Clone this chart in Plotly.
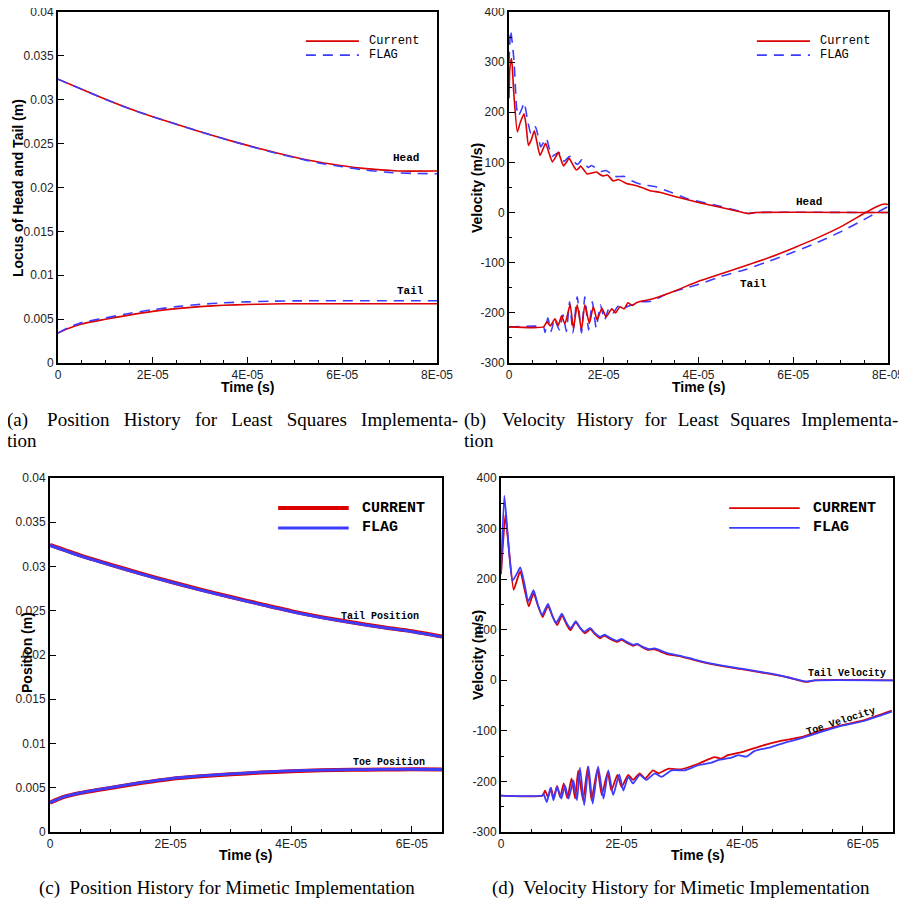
import plotly.graph_objects as go

# ---------------- DATA (time in microseconds) ----------------
# (a) Position history, least squares
a_head_cur_t = [0, 5, 10, 15, 20, 25, 30, 35, 40, 45, 50, 55, 60, 65, 70, 72, 80]
a_head_cur_v = [0.03234, 0.0312, 0.03005, 0.0290, 0.02806, 0.0272, 0.02635, 0.02555, 0.0248,
                0.0241, 0.02345, 0.0229, 0.02248, 0.02215, 0.02195, 0.02188, 0.02188]
a_head_flag_t = [0, 5, 10, 15, 20, 25, 30, 35, 40, 45, 50, 55, 60, 65, 70, 75, 80]
a_head_flag_v = [0.03234, 0.0312, 0.03005, 0.0290, 0.02806, 0.0272, 0.02635, 0.02555, 0.02478,
                 0.02405, 0.0234, 0.0228, 0.02237, 0.02197, 0.02172, 0.0216, 0.02157]
a_tail_cur_t = [0, 2, 5, 10, 15, 20, 25, 30, 35, 40, 45, 50, 80]
a_tail_cur_v = [0.00341, 0.0039, 0.00445, 0.00498, 0.00546, 0.00588, 0.0062, 0.00643, 0.00658,
                0.00667, 0.00673, 0.00675, 0.00675]
a_tail_flag_t = [0, 2, 5, 10, 15, 20, 25, 30, 35, 40, 45, 50, 80]
a_tail_flag_v = [0.00341, 0.0040, 0.0046, 0.00513, 0.00565, 0.00608, 0.00642, 0.00668, 0.00686,
                 0.00697, 0.00704, 0.00708, 0.00709]

# (b) Velocity history, least squares
b_head_cur_t = [0, 0.2, 0.56, 1.0, 1.76, 2.4, 3.17, 3.6, 4.1, 4.7, 5.35, 5.9, 6.55, 7.1, 7.74, 8.4,
                9.15, 9.8, 10.4, 11.0, 11.5, 12.1, 12.7, 13.5, 14.2, 14.7, 15.1, 15.8, 16.5, 17.5,
                18.5, 19.2, 19.9, 20.8, 22.0, 23.1, 24.8, 26.3, 28.0, 29.6, 32, 35, 40, 44.8, 49,
                50.5, 52, 80]
b_head_cur_v = [228, 290, 307, 240, 161, 180, 197, 175, 134, 145, 163, 140, 114, 125, 138, 120,
                101, 110, 120, 105, 93, 100, 108, 95, 85, 88, 93, 85, 77, 79, 81, 76, 73, 75, 63,
                66, 58, 55, 50, 44, 40, 32, 20, 10, 1, -2, 0, 0]
b_head_flag_t = [0, 0.35, 1.05, 1.6, 1.97, 2.67, 3.2, 3.9, 4.6, 5.1, 5.6, 6.2, 6.7, 7.3, 7.9, 8.5,
                 9.1, 9.8, 10.5, 11.1, 11.7, 12.3, 12.8, 13.6, 14.4, 14.9, 15.3, 16.0, 16.7, 17.1,
                 17.4, 18.5, 19.5, 20.0, 20.5, 21.4, 22.3, 23.4, 24.4, 26.0, 27.9, 30.8, 34.3, 37.8,
                 40.6, 44.8, 49.8, 50.5, 52, 80]
b_head_flag_v = [300, 363, 304, 210, 193, 206, 219, 185, 158, 165, 171, 150, 131, 140, 148, 128,
                 112, 116, 120, 110, 102, 108, 112, 103, 96, 100, 105, 97, 90, 92, 94, 88, 82, 83,
                 84, 78, 72, 72, 72, 63, 56, 52, 40, 27, 21, 12, 0, -2, 0, 0]
b_tail_cur_t = [0, 7.3, 8.0, 8.7, 9.7, 10.4, 11.1, 11.8, 12.9, 13.6, 14.4, 15.3, 16.0, 16.96, 17.8,
                18.6, 19.6, 20.5, 21.7, 22.5, 23.4, 24.3, 25.1, 26.0, 26.9, 28.3, 30.0, 34.3, 40.0,
                44.8, 50.2, 55.4, 60.2, 65.2, 70.1, 75.1, 77.9, 79.3, 80]
b_tail_cur_v = [-228, -228, -218, -226, -212, -225, -206, -222, -184, -231, -184, -234, -184, -221,
                -188, -214, -191, -208, -192, -200, -188, -192, -180, -185, -180, -176, -173, -159,
                -137, -122, -105, -88, -70, -50, -28, -1, 13, 17, 16]
b_tail_flag_t = [0, 7.3, 7.6, 8.2, 8.9, 9.6, 10.6, 11.4, 12.1, 12.8, 13.5, 14.4, 15.3, 16.0, 16.8,
                 17.6, 18.4, 19.3, 20.2, 21.1, 22.0, 23.0, 24.0, 25.1, 26.5, 28.0, 30.0, 33.6, 37.8,
                 40.1, 44.8, 49.8, 54.0, 58.9, 64.5, 70.1, 75.1, 80]
b_tail_flag_v = [-228, -228, -239, -210, -237, -212, -234, -204, -237, -178, -240, -168, -240,
                 -168, -234, -178, -230, -184, -214, -191, -200, -187, -192, -187, -183, -178, -177,
                 -161, -149, -143, -127, -114, -100, -83, -62, -38, -13, 12]

# (c) Position history, mimetic
c_head_cur_t = [0, 5, 10, 15, 20, 25, 30, 35, 40, 45, 50, 55, 60, 65]
c_head_cur_v = [0.03243, 0.03125, 0.03022, 0.02922, 0.02828, 0.02738, 0.02655, 0.02575, 0.02496,
                0.02428, 0.0237, 0.02316, 0.02268, 0.02208]
c_head_flag_t = [0, 5, 10, 15, 20, 25, 30, 35, 40, 45, 50, 55, 60, 65]
c_head_flag_v = [0.03238, 0.0312, 0.03017, 0.02917, 0.02823, 0.02733, 0.0265, 0.0257, 0.02491,
                 0.02423, 0.02365, 0.02311, 0.02264, 0.02204]
c_toe_cur_t = [0, 2, 5, 10, 15, 20, 25, 30, 35, 40, 45, 50, 55, 60, 65]
c_toe_cur_v = [0.00332, 0.0039, 0.0044, 0.00498, 0.00553, 0.006, 0.0063, 0.00652, 0.00672,
               0.00686, 0.00697, 0.00702, 0.00706, 0.00708, 0.00705]
c_toe_flag_t = [0, 2, 5, 10, 15, 20, 25, 30, 35, 40, 45, 50, 55, 60, 65]
c_toe_flag_v = [0.00332, 0.0039, 0.00442, 0.00502, 0.00557, 0.00604, 0.00634, 0.00656, 0.00676,
                0.00691, 0.007, 0.00704, 0.00707, 0.00709, 0.00706]

# (d) Velocity history, mimetic
d_head_cur_t = [0, 0.17, 0.72, 1.3, 2.1, 2.7, 3.2, 3.9, 4.6, 5.0, 5.4, 6.2, 6.9, 7.3, 7.8, 8.6, 9.3,
                9.7, 10.1, 10.8, 11.5, 12.0, 12.4, 13.2, 13.9, 14.4, 14.8, 15.6, 16.4, 16.8, 17.2,
                18.2, 19.2, 19.6, 20.0, 21.0, 21.9, 22.3, 22.6, 23.5, 24.4, 25.0, 25.5, 27.7, 29.9,
                32.1, 35.4, 39.9, 44.8, 47.5, 50.0, 50.9, 52, 65]
d_head_cur_v = [210, 241, 327, 260, 179, 200, 216, 180, 146, 160, 172, 145, 125, 135, 147, 125, 109,
                118, 129, 112, 99, 108, 115, 102, 93, 97, 101, 91, 83, 86, 88, 81, 76, 78, 80, 73,
                68, 70, 71, 65, 60, 61, 61, 51, 47, 40, 31, 22, 12, 6, -2, -3, 0, 0]
d_head_flag_t = [0, 0.55, 1.1, 1.9, 2.6, 3.2, 3.9, 4.5, 5.0, 5.4, 6.1, 6.8, 7.3, 7.8, 8.5, 9.1, 9.6,
                 10.1, 10.8, 11.5, 12.0, 12.4, 13.1, 13.8, 14.3, 14.8, 15.6, 16.4, 16.8, 17.2, 18.2,
                 19.2, 19.6, 20.0, 21.0, 21.9, 22.3, 22.6, 23.5, 24.4, 25.0, 25.5, 27.7, 29.9, 32.1,
                 35.4, 39.9, 44.8, 47.5, 50.0, 50.9, 52, 65]
d_head_flag_v = [210, 365, 290, 197, 210, 223, 190, 156, 168, 178, 150, 129, 140, 151, 128, 113,
                 122, 132, 115, 103, 110, 117, 104, 96, 100, 103, 93, 86, 88, 90, 83, 78, 80, 82, 75,
                 70, 71, 72, 66, 62, 62, 63, 53, 48, 41, 32, 23, 13, 6, -1, -2, 0, 0]
d_toe_cur_t = [0, 6.9, 7.3, 7.8, 8.3, 8.7, 9.3, 9.8, 10.4, 11.0, 11.7, 12.3, 12.8, 13.6, 14.4,
               15.0, 16.0, 16.7, 17.7, 18.3, 19.3, 20.0, 21.1, 21.9, 23.0, 23.9, 25.2, 26.1, 27.7,
               29.9, 32.7, 35.4, 36.5, 37.6, 39.9, 43.1, 46.4, 50.0, 53.1, 56.4, 59.9, 64.8]
d_toe_cur_v = [-228, -228, -218, -231, -213, -233, -209, -231, -204, -233, -194, -234, -178, -237,
               -171, -237, -175, -227, -181, -218, -187, -211, -187, -197, -184, -194, -178, -184,
               -175, -176, -165, -152, -155, -148, -142, -130, -120, -112, -99, -89, -80, -60]
d_toe_flag_t = [0, 6.9, 7.05, 7.6, 8.2, 8.7, 9.3, 10.0, 10.6, 11.2, 12.0, 12.6, 13.1, 13.8, 14.5,
                15.2, 16.1, 17.0, 17.8, 18.6, 19.6, 20.3, 21.1, 21.9, 23.0, 24.1, 25.5, 26.6, 28.3,
                30.5, 32.7, 34.9, 36.0, 38.2, 39.3, 40.7, 42.0, 44.8, 47.5, 50.0, 53.1, 56.4, 60.0,
                64.8]
d_toe_flag_v = [-228, -228, -224, -241, -213, -237, -211, -234, -208, -234, -198, -237, -173, -247,
                -171, -244, -171, -234, -178, -227, -186, -218, -191, -204, -187, -197, -184, -191,
                -178, -178, -168, -163, -158, -153, -148, -151, -140, -132, -122, -114, -102, -90,
                -81, -62]

# tick labels
x_tick_vals_us = [0, 20, 40, 60, 80]
x_tick_text = ["0", "2E-05", "4E-05", "6E-05", "8E-05"]
pos_tick_vals = [0, 0.005, 0.01, 0.015, 0.02, 0.025, 0.03, 0.035, 0.04]
pos_tick_text = ["0", "0.005", "0.01", "0.015", "0.02", "0.025", "0.03", "0.035", "0.04"]
vel_tick_vals = [-300, -200, -100, 0, 100, 200, 300, 400]
vel_tick_text = ["-300", "-200", "-100", "0", "100", "200", "300", "400"]

# ---------------- FIGURE ----------------
OFF = 8            # page body margin of the browser
W = H = 907 - OFF
RED = "#dc0000"
BLUE = "#3c3cff"
US = 1e-6


def sec(ts):
    return [t * US for t in ts]


def PX(px):
    return (px - OFF) / W


def PY(py):
    return 1 - (py - OFF) / H


fig = go.Figure()

panels = {
    "a": dict(xa="x", ya="y", xd=[PX(58), PX(437)], yd=[PY(363), PY(12)], xmax=80),
    "b": dict(xa="x2", ya="y2", xd=[PX(509), PX(888)], yd=[PY(363), PY(12)], xmax=80),
    "c": dict(xa="x3", ya="y3", xd=[PX(50), PX(442)], yd=[PY(832), PY(478)], xmax=65),
    "d": dict(xa="x4", ya="y4", xd=[PX(501), PX(893)], yd=[PY(832), PY(478)], xmax=65),
}


def add(p, t, v, color, width, dash="solid", shape="linear", smooth=None):
    line = dict(color=color, width=width, dash=dash, shape=shape)
    if smooth is not None:
        line["smoothing"] = smooth
    fig.add_trace(go.Scatter(x=sec(t), y=v, mode="lines", line=line,
                             xaxis=panels[p]["xa"], yaxis=panels[p]["ya"],
                             showlegend=False, hoverinfo="skip", cliponaxis=True))


DASH = "10px,7px"
# (a)
add("a", a_head_cur_t, a_head_cur_v, RED, 1.6, shape="spline", smooth=0.6)
add("a", a_tail_cur_t, a_tail_cur_v, RED, 1.6, shape="spline", smooth=0.6)
add("a", a_head_flag_t, a_head_flag_v, BLUE, 1.6, DASH, "spline", 0.6)
add("a", a_tail_flag_t, a_tail_flag_v, BLUE, 1.6, DASH, "spline", 0.6)
# (b)
add("b", b_head_flag_t, b_head_flag_v, BLUE, 1.6, DASH, "spline", 0.5)
add("b", b_tail_flag_t, b_tail_flag_v, BLUE, 1.6, DASH, "spline", 0.5)
add("b", b_head_cur_t, b_head_cur_v, RED, 1.6, shape="spline", smooth=0.5)
add("b", b_tail_cur_t, b_tail_cur_v, RED, 1.6, shape="spline", smooth=0.5)
# (c)
add("c", c_head_cur_t, c_head_cur_v, RED, 4, shape="spline", smooth=0.6)
add("c", c_toe_cur_t, c_toe_cur_v, RED, 4, shape="spline", smooth=0.6)
add("c", c_head_flag_t, c_head_flag_v, BLUE, 2.8, shape="spline", smooth=0.6)
add("c", c_toe_flag_t, c_toe_flag_v, BLUE, 2.8, shape="spline", smooth=0.6)
# (d)
add("d", d_head_cur_t, d_head_cur_v, RED, 1.8, shape="spline", smooth=0.5)
add("d", d_toe_cur_t, d_toe_cur_v, RED, 1.8, shape="spline", smooth=0.5)
add("d", d_head_flag_t, d_head_flag_v, BLUE, 1.8, shape="spline", smooth=0.5)
add("d", d_toe_flag_t, d_toe_flag_v, BLUE, 1.8, shape="spline", smooth=0.5)

TICKFONT = dict(family="Liberation Sans, Arial, sans-serif", size=12, color="#222")
layout = dict(width=W, height=H, margin=dict(l=0, r=0, t=0, b=0, autoexpand=False),
              paper_bgcolor="white", plot_bgcolor="white", showlegend=False,
              template="none")

for key, p in panels.items():
    xname = "xaxis" + p["xa"][1:]
    yname = "yaxis" + p["ya"][1:]
    xt = [v * US for v in x_tick_vals_us if v <= p["xmax"]]
    xtt = [s for v, s in zip(x_tick_vals_us, x_tick_text) if v <= p["xmax"]]
    is_pos = key in ("a", "c")
    layout[xname] = dict(domain=p["xd"], anchor=p["ya"], range=[0, p["xmax"] * US],
                         automargin=False, ticklabeloverflow="allow",
                         tickmode="array", tickvals=xt, ticktext=xtt, ticks="inside",
                         ticklen=6, tickwidth=1, tickcolor="black", showline=True,
                         linecolor="black", linewidth=2, mirror=True, showgrid=False,
                         zeroline=False, tickfont=TICKFONT,
                         minor=dict(dtick=5 * US, tick0=0, ticks="inside", ticklen=3,
                                    tickcolor="black", showgrid=False))
    yr = [0, 0.04] if is_pos else [-300, 400]
    ycfg = dict(domain=p["yd"], anchor=p["xa"], range=yr, tickmode="array",
                automargin=False, ticklabeloverflow="allow",
                tickvals=pos_tick_vals if is_pos else vel_tick_vals,
                ticktext=pos_tick_text if is_pos else vel_tick_text,
                ticks="inside", ticklen=6, tickwidth=1, tickcolor="black",
                showline=True, linecolor="black", linewidth=2, mirror=True,
                showgrid=False, zeroline=False, tickfont=TICKFONT)
    if not is_pos:
        ycfg["minor"] = dict(dtick=50, ticks="inside", ticklen=3, tickcolor="black",
                             showgrid=False)
    layout[yname] = ycfg

fig.update_layout(**layout)

# legends (drawn as keys in axis-domain coordinates)
shapes = []
annotations = []
MONO = "Liberation Mono, Courier New, monospace"
for key in ("a", "b"):
    p = panels[key]
    xr, yr = p["xa"] + " domain", p["ya"] + " domain"
    shapes.append(dict(type="line", xref=xr, yref=yr, x0=0.654, x1=0.794, y0=0.917, y1=0.917,
                       line=dict(color=RED, width=1.6)))
    shapes.append(dict(type="line", xref=xr, yref=yr, x0=0.654, x1=0.794, y0=0.877, y1=0.877,
                       line=dict(color=BLUE, width=1.6, dash=DASH)))
    for txt, yy in (("Current", 0.917), ("FLAG", 0.877)):
        annotations.append(dict(text=txt, xref=xr, yref=yr, x=0.816, y=yy, xanchor="left",
                                yanchor="middle", showarrow=False,
                                font=dict(family=MONO, size=12, color="black")))
for key in ("c", "d"):
    p = panels[key]
    xr, yr = p["xa"] + " domain", p["ya"] + " domain"
    shapes.append(dict(type="line", xref=xr, yref=yr, x0=0.582, x1=0.762, y0=0.915, y1=0.915,
                       line=dict(color=RED, width=4 if key == "c" else 1.8)))
    shapes.append(dict(type="line", xref=xr, yref=yr, x0=0.582, x1=0.762, y0=0.859, y1=0.859,
                       line=dict(color=BLUE, width=3 if key == "c" else 1.8)))
    for txt, yy in (("CURRENT", 0.915), ("FLAG", 0.859)):
        annotations.append(dict(text="<b>" + txt + "</b>", xref=xr, yref=yr, x=0.79, y=yy,
                                xanchor="left", yanchor="middle", showarrow=False,
                                font=dict(family=MONO, size=15, color="black")))

# curve labels (data coordinates)
LAB = dict(family=MONO, size=11, color="black")
SMALL = dict(family=MONO, size=10, color="black")


def lab(key, text, t_us, v, font, angle=0):
    p = panels[key]
    annotations.append(dict(text=text, xref=p["xa"], yref=p["ya"], x=t_us * US, y=v,
                            showarrow=False, font=font, textangle=angle))


lab("a", "<b>Head</b>", 73.5, 0.0234, LAB)
lab("a", "<b>Tail</b>", 74.5, 0.0082, LAB)
lab("b", "<b>Head</b>", 63.3, 21, LAB)
lab("b", "<b>Tail</b>", 51.7, -143, LAB)
lab("c", "<b>Tail Position</b>", 54.8, 0.0244, SMALL)
lab("c", "<b>Toe Position</b>", 56.2, 0.0078, SMALL)
lab("d", "<b>Tail Velocity</b>", 57.3, 14, SMALL)
lab("d", "<b>Toe Velocity</b>", 56.3, -82, SMALL, angle=-18)

# axis titles
TITLE = dict(family="Liberation Sans, Arial, sans-serif", size=14, color="black")
for txt, x, y in (("Locus of Head and Tail (m)", 18, 188), ("Velocity (m/s)", 477, 188),
                  ("Position (m)", 27, 653), ("Velocity (m/s)", 478, 655)):
    annotations.append(dict(text="<b>" + txt + "</b>", xref="paper", yref="paper", x=PX(x),
                            y=PY(y), textangle=-90, showarrow=False, font=TITLE,
                            xanchor="center", yanchor="middle"))
for x, y in ((247, 387), (698, 387), (245, 855), (697, 855)):
    annotations.append(dict(text="<b>Time (s)</b>", xref="paper", yref="paper", x=PX(x),
                            y=PY(y), showarrow=False, font=TITLE, xanchor="center",
                            yanchor="middle"))

# captions
CAP = dict(family="Liberation Serif, Times New Roman, serif", size=19, color="black")
cap_a = " \u2002".join(["(a) ", "Position", "History", "for", "Least", "Squares", "Implementa-"])
cap_b = " \u2004".join(["(b) ", "Velocity", "History", "for", "Least", "Squares", "Implementa-"])
for txt, x, y, anchor in ((cap_a, 5, 420, "left"), ("tion", 5, 441, "left"),
                          (cap_b, 462, 420, "left"), ("tion", 462, 441, "left"),
                          ("(c)  Position History for Mimetic Implementation", 227, 888, "center"),
                          ("(d)  Velocity History for Mimetic Implementation", 681, 888, "center")):
    annotations.append(dict(text=txt, xref="paper", yref="paper", x=PX(x), y=PY(y),
                            xanchor=anchor, yanchor="middle", showarrow=False, font=CAP))

fig.update_layout(shapes=shapes, annotations=annotations)
fig.write_html("out.html")
